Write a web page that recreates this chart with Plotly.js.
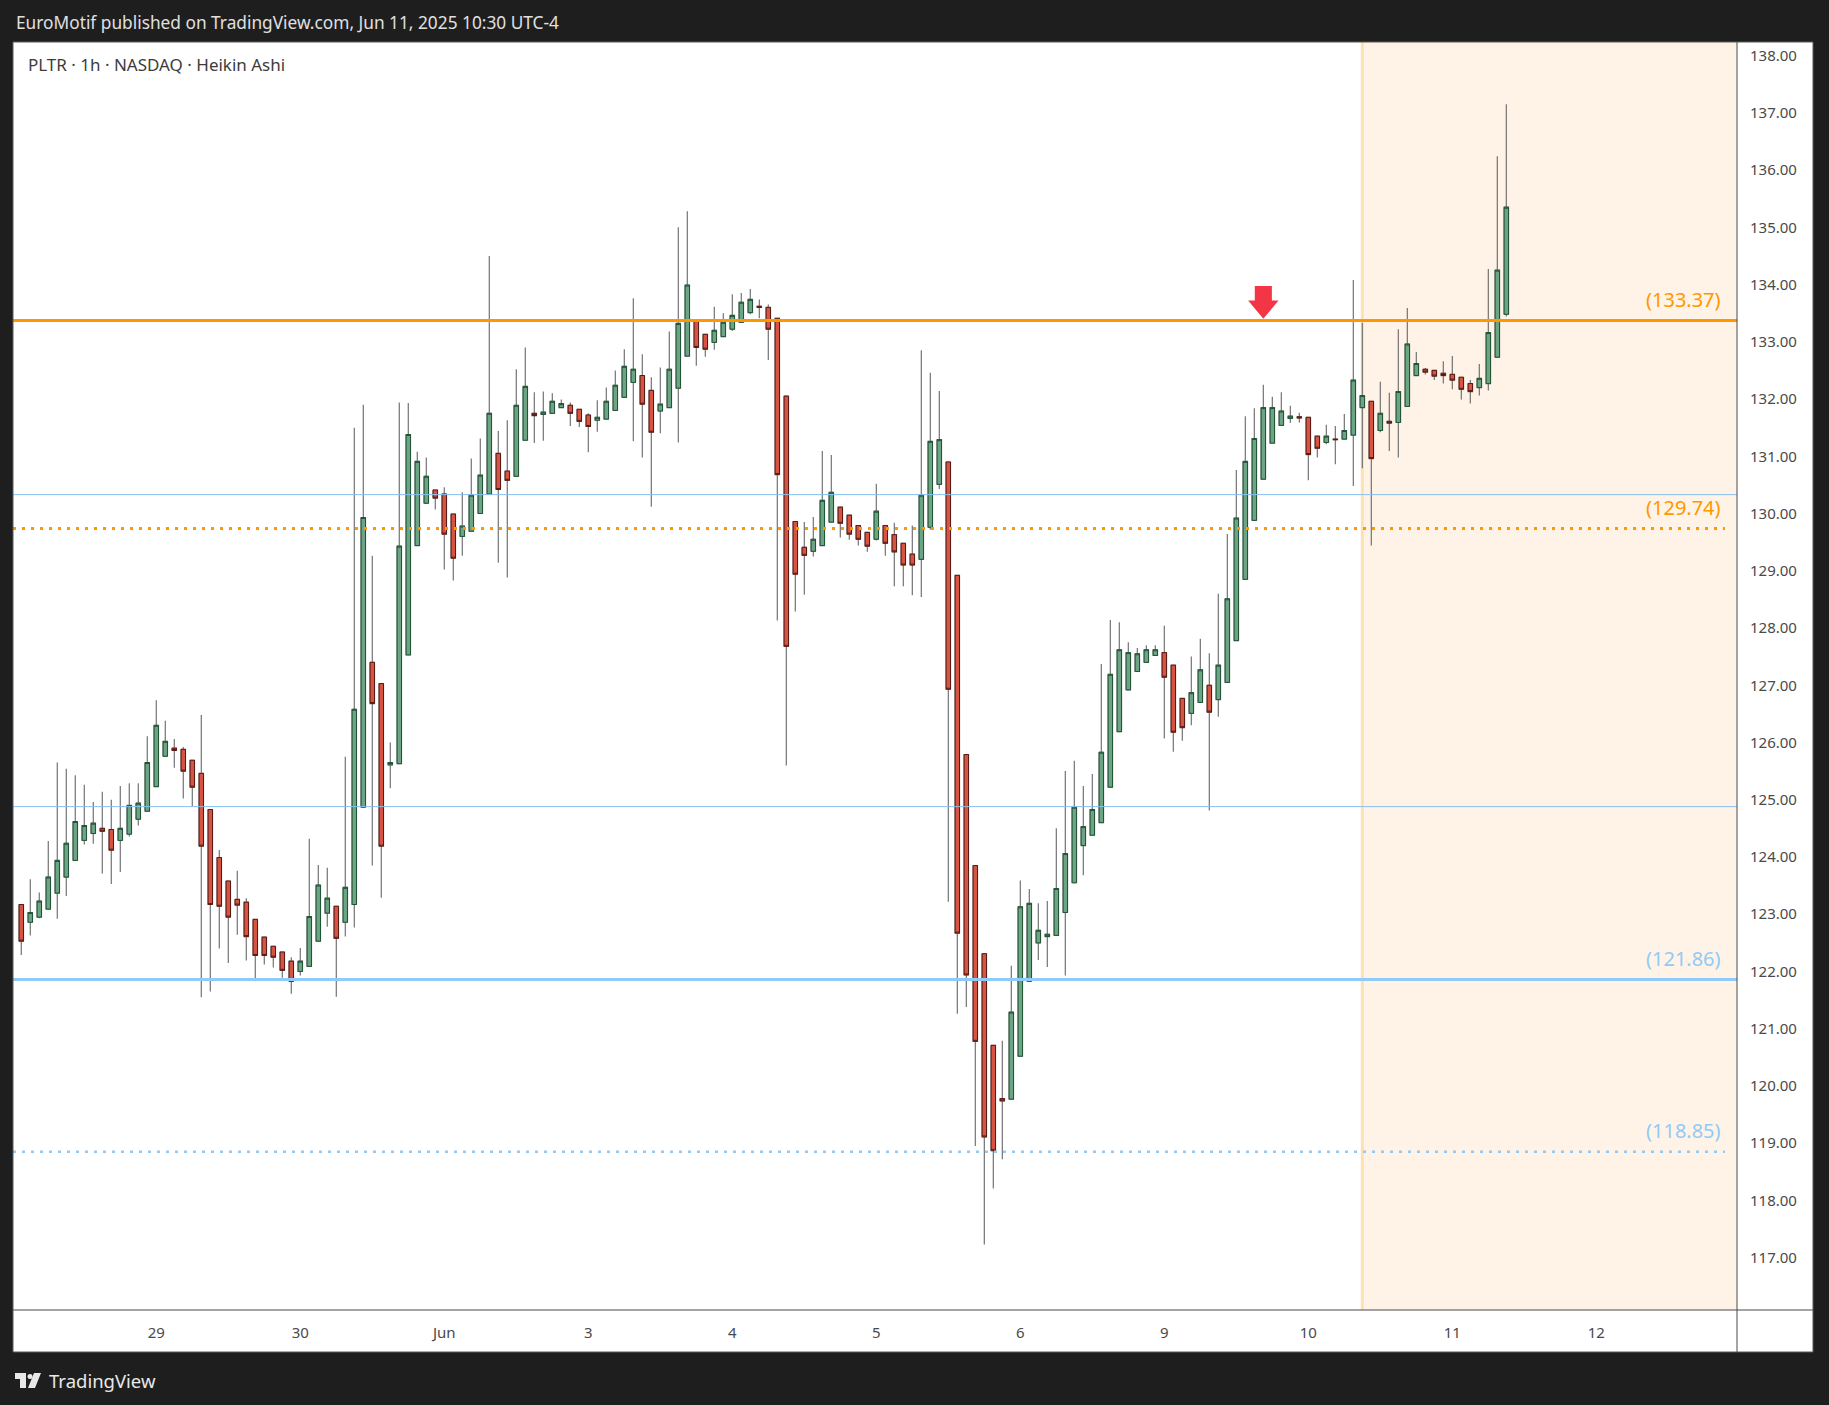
<!DOCTYPE html>
<html><head><meta charset="utf-8">
<script src="https://cdn.plot.ly/plotly-3.0.1.min.js"></script>
<style>html,body{margin:0;padding:0;background:#1e1e1e;overflow:hidden}#chart{width:1829px;height:1405px}</style>
</head><body><div id="chart"></div>
<script>
// ---- Heikin Ashi hourly bars (PLTR, 1h, extended hours, 16 bars per day) ----
const openP = [123.17,122.86,122.95,123.09,123.37,123.65,123.94,124.29,124.41,124.50,124.48,124.29,124.40,124.66,124.80,125.23,125.76,125.90,125.88,125.69,
125.46,124.83,123.99,123.58,123.26,123.21,122.91,122.60,122.44,122.34,122.18,122.00,122.09,122.53,123.02,123.14,122.86,123.17,124.87,127.40,
127.03,125.61,125.63,127.53,129.44,130.18,130.41,130.34,129.99,129.60,129.69,130.00,130.34,131.05,130.74,130.65,131.28,131.75,131.73,131.75,
131.85,131.89,131.82,131.72,131.63,131.65,131.80,132.03,132.29,132.41,132.15,131.79,131.85,132.19,132.75,133.36,133.13,132.99,133.09,133.22,
133.34,133.51,133.62,133.60,133.41,132.05,129.86,129.41,129.34,129.44,129.85,130.11,129.97,129.79,129.67,129.55,129.79,129.63,129.48,129.29,
129.20,129.76,130.51,130.90,128.92,125.79,123.85,122.31,120.71,119.78,119.77,120.52,121.83,122.50,122.61,122.63,123.03,123.55,124.20,124.38,
124.60,125.22,126.19,126.92,127.24,127.40,127.52,127.57,127.35,126.77,126.51,126.70,127.00,126.75,127.05,127.78,128.85,129.88,130.60,131.23,
131.54,131.66,131.69,131.68,131.35,131.24,131.30,131.30,131.37,131.85,131.96,131.45,131.61,131.59,131.87,132.41,132.52,132.50,132.45,132.43,
132.38,132.27,132.20,132.27,132.73,133.48];
const highP = [123.17,123.61,123.38,124.28,125.65,125.54,125.43,125.26,124.96,125.14,125.00,125.24,125.29,125.29,126.11,126.74,126.38,126.06,125.92,125.69,
126.48,124.83,124.12,123.58,123.76,123.28,122.91,122.60,122.44,122.34,122.25,122.41,124.32,123.86,123.81,123.14,125.75,131.50,131.90,129.26,
127.03,126.00,131.94,131.93,131.08,130.98,130.41,130.46,129.99,130.37,130.96,131.31,134.50,131.44,131.63,132.52,132.90,132.12,132.13,132.10,
131.99,131.94,131.82,131.75,131.98,132.20,132.50,132.87,133.76,132.78,132.38,132.55,133.18,135.00,135.28,133.36,133.13,133.61,133.50,133.83,
133.85,133.92,133.74,133.65,133.41,132.05,129.86,129.85,129.94,131.09,131.02,130.11,129.97,129.79,129.67,130.52,129.79,129.84,129.48,129.79,
132.85,132.46,132.14,130.90,128.92,125.79,123.85,122.31,120.71,120.79,122.10,123.59,123.44,123.19,123.23,124.50,125.50,125.68,125.24,125.45,
127.37,128.14,128.10,127.75,127.65,127.70,127.70,128.04,127.35,126.77,127.50,127.81,127.56,128.60,129.64,130.76,131.70,131.84,132.25,132.04,
132.12,131.88,131.76,131.68,131.35,131.55,131.53,131.74,134.08,133.33,131.96,132.30,132.11,133.22,133.59,132.82,132.54,132.50,132.66,132.75,
132.38,132.33,132.61,134.27,136.24,137.15];
const lowP = [122.29,122.63,122.93,123.09,122.92,123.32,123.94,124.22,124.23,123.71,123.53,123.74,124.36,124.55,124.80,125.23,125.76,125.56,125.02,124.89,
121.55,121.65,122.40,122.15,122.64,122.19,121.86,122.12,122.07,121.89,121.61,121.93,122.09,122.53,122.78,121.56,122.61,122.77,124.87,123.85,
123.29,125.20,125.63,127.53,129.44,130.18,130.07,129.02,128.83,129.26,129.69,130.00,130.34,129.14,128.88,130.65,131.28,131.23,131.27,131.75,
131.85,131.53,131.51,131.07,131.43,131.65,131.80,132.03,131.26,130.98,130.12,131.40,131.85,131.24,132.75,132.58,132.74,132.86,133.09,133.19,
133.34,133.48,133.41,132.68,128.13,125.60,128.29,128.58,129.25,129.44,129.85,129.58,129.54,129.44,129.33,129.53,129.26,128.73,128.73,128.57,
128.54,129.72,130.43,123.22,121.26,121.38,118.95,117.23,118.21,118.72,119.77,120.52,121.83,122.20,122.08,122.63,121.93,123.55,123.68,124.38,
124.60,125.22,126.19,126.92,127.24,127.40,127.52,126.07,125.84,126.03,126.30,126.70,124.81,126.45,127.05,127.78,128.85,129.88,130.60,131.23,
131.54,131.58,131.59,130.58,130.98,131.21,130.86,131.30,130.48,130.79,129.44,131.42,131.09,130.98,131.87,132.40,132.43,132.33,132.27,132.17,
131.99,131.92,132.06,132.15,132.73,133.44];
const closeP = [122.53,123.03,123.23,123.65,123.94,124.24,124.62,124.55,124.59,124.45,124.12,124.50,124.90,124.94,125.65,126.30,126.02,125.86,125.50,125.22,
124.19,123.17,123.14,122.95,123.16,122.61,122.28,122.28,122.25,122.02,121.83,122.18,122.96,123.51,123.28,122.58,123.47,126.58,129.93,126.68,
124.19,125.65,129.43,131.38,130.91,130.65,130.27,129.64,129.22,129.78,130.32,130.67,131.75,130.42,130.58,131.89,132.22,131.71,131.77,131.96,
131.92,131.75,131.61,131.52,131.68,131.96,132.24,132.57,132.52,131.91,131.42,131.91,132.52,133.32,133.99,132.90,132.87,133.20,133.34,133.46,
133.69,133.74,133.60,133.22,130.68,127.68,128.94,129.27,129.55,130.23,130.37,129.83,129.64,129.55,129.43,130.04,129.48,129.33,129.10,129.10,
130.32,131.26,131.29,126.93,122.67,121.94,120.78,119.11,118.87,119.74,121.29,123.13,123.19,122.72,122.65,123.45,124.06,124.87,124.53,124.83,
125.83,127.19,127.62,127.57,127.55,127.62,127.62,127.14,126.18,126.26,126.87,127.27,126.53,127.35,128.51,129.92,130.91,131.31,131.85,131.85,
131.79,131.70,131.67,131.03,131.14,131.35,131.29,131.45,132.33,132.06,130.96,131.75,131.58,132.13,132.96,132.62,132.47,132.40,132.41,132.33,
132.17,132.13,132.36,133.16,134.25,135.35];

// x axis: bar index of the first bar of each session, with its label
const dayTickBars = [15, 31, 47, 63, 79, 95, 111, 127, 143, 159, 175];
const dayTickLabels = ['29', '30', 'Jun', '3', '4', '5', '6', '9', '10', '11', '12'];
// y axis ticks
const priceTicks = [117,118,119,120,121,122,123,124,125,126,127,128,129,130,131,132,133,134,135,136,137,138];

// horizontal levels drawn on the chart
const orangeLevels = [133.37, 129.74];
const blueLevels = [121.86, 118.85];
const thinBlueLevels = [130.33, 124.88];
// highlighted session (from this bar to the right edge) and the signal arrow
const highlightStartBar = 149;
const arrowBar = 138;
const arrowTipPrice = 133.40;

// ---------- presentation ----------
const FONT = 'Noto Sans, Open Sans, sans-serif';
const L = 13, R = 1737, T = 42, B = 1310;       // plot area in px
const PX = x => (x - L) / (R - L);
const PY = y => (B - y) / (B - T);
const xRange = [-0.92, 190.63];
const yRange = [116.087, 138.236];

const bars = openP.map((_, i) => i);
const bodyTop = openP.map((o, i) => Math.max(o, closeP[i]));
const bodyBot = openP.map((o, i) => Math.min(o, closeP[i]));

const wickTrace = {
  type: 'candlestick', x: bars, open: openP, high: highP, low: lowP, close: closeP,
  increasing: {line: {color: '#737375', width: 1.2}, fillcolor: '#737375'},
  decreasing: {line: {color: '#737375', width: 1.2}, fillcolor: '#737375'},
  hoverinfo: 'skip', showlegend: false
};
const bodyTrace = {
  type: 'candlestick', x: bars, open: openP, high: bodyTop, low: bodyBot, close: closeP,
  increasing: {line: {color: '#225437', width: 1}, fillcolor: '#6ba583'},
  decreasing: {line: {color: '#5b1a13', width: 1}, fillcolor: '#d75442'},
  hoverinfo: 'skip', showlegend: false
};

const shapes = [];
// white axis panels
shapes.push({type: 'rect', xref: 'paper', yref: 'paper', x0: 1, x1: PX(1813), y0: PY(1352), y1: 1,
  fillcolor: '#ffffff', line: {width: 0}, layer: 'below'});
shapes.push({type: 'rect', xref: 'paper', yref: 'paper', x0: 0, x1: 1, y0: PY(1352), y1: 0,
  fillcolor: '#ffffff', line: {width: 0}, layer: 'below'});
// highlighted session
shapes.push({type: 'rect', xref: 'x', yref: 'paper', x0: highlightStartBar, x1: xRange[1], y0: 0, y1: 1,
  fillcolor: '#fef3e6', line: {width: 0}, layer: 'below'});
shapes.push({type: 'line', xref: 'x', yref: 'paper', x0: highlightStartBar, x1: highlightStartBar, y0: 0, y1: 1,
  line: {color: '#ffe0b2', width: 3}, layer: 'below'});
// levels
thinBlueLevels.forEach(v => shapes.push({type: 'line', xref: 'paper', yref: 'y', x0: 0, x1: 1, y0: v, y1: v,
  line: {color: '#86c1f0', width: 1}, layer: 'above'}));
shapes.push({type: 'line', xref: 'paper', yref: 'y', x0: 0, x1: 1, y0: orangeLevels[0], y1: orangeLevels[0],
  line: {color: '#ff9800', width: 3}, layer: 'above'});
shapes.push({type: 'line', xref: 'paper', yref: 'y', x0: 0, x1: 0.993, y0: orangeLevels[1], y1: orangeLevels[1],
  line: {color: '#ff9800', width: 3, dash: '3px,6px'}, layer: 'above'});
shapes.push({type: 'line', xref: 'paper', yref: 'y', x0: 0, x1: 1, y0: blueLevels[0], y1: blueLevels[0],
  line: {color: '#90caf9', width: 3}, layer: 'above'});
shapes.push({type: 'line', xref: 'paper', yref: 'y', x0: 0, x1: 0.993, y0: blueLevels[1], y1: blueLevels[1],
  line: {color: '#90caf9', width: 2.5, dash: '3px,6px'}, layer: 'above'});
// signal arrow (block arrow pointing down)
(function () {
  const hw = 1.69, sw = 0.95, head = 0.32, tot = 0.576;
  const t = arrowTipPrice, c = arrowBar;
  const p = [[c, t], [c - hw, t + head], [c - sw, t + head], [c - sw, t + tot], [c + sw, t + tot], [c + sw, t + head], [c + hw, t + head]];
  shapes.push({type: 'path', xref: 'x', yref: 'y', path: 'M' + p.map(q => q[0] + ',' + q[1]).join(' L') + ' Z',
    fillcolor: '#f23645', line: {width: 0}, layer: 'above'});
})();
// frame lines
const frame = '#4a4a4a';
shapes.push({type: 'line', xref: 'paper', yref: 'paper', x0: 1, x1: 1, y0: PY(1352), y1: 1, line: {color: frame, width: 1}});
shapes.push({type: 'line', xref: 'paper', yref: 'paper', x0: 0, x1: PX(1813), y0: 0, y1: 0, line: {color: frame, width: 1}});
shapes.push({type: 'rect', xref: 'paper', yref: 'paper', x0: 0, x1: PX(1813), y0: PY(1352), y1: 1, line: {color: '#5a5a5a', width: 1}, fillcolor: 'rgba(0,0,0,0)'});
// TradingView logo mark
shapes.push({type: 'rect', xref: 'paper', yref: 'paper', x0: PX(15), x1: PX(26), y0: PY(1379), y1: PY(1373), fillcolor: '#e8e8e8', line: {width: 0}});
shapes.push({type: 'rect', xref: 'paper', yref: 'paper', x0: PX(20), x1: PX(26), y0: PY(1388), y1: PY(1373), fillcolor: '#e8e8e8', line: {width: 0}});
shapes.push({type: 'circle', xref: 'paper', yref: 'paper', x0: PX(27.5), x1: PX(32.5), y0: PY(1379), y1: PY(1374), fillcolor: '#e8e8e8', line: {width: 0}});
shapes.push({type: 'path', xref: 'paper', yref: 'paper',
  path: `M${PX(34)},${PY(1373)} L${PX(41)},${PY(1373)} L${PX(35)},${PY(1388)} L${PX(28)},${PY(1388)} Z`, fillcolor: '#e8e8e8', line: {width: 0}});

const annotations = [];
annotations.push({xref: 'paper', yref: 'paper', x: PX(14), y: PY(22), xanchor: 'left', yanchor: 'middle', showarrow: false,
  text: 'EuroMotif published on TradingView.com, Jun 11, 2025 10:30 UTC-4', font: {family: FONT, size: 17.3, color: '#e0e0e0'}});
annotations.push({xref: 'paper', yref: 'paper', x: PX(26), y: PY(64), xanchor: 'left', yanchor: 'middle', showarrow: false,
  text: 'PLTR · 1h · NASDAQ · Heikin Ashi', font: {family: FONT, size: 17, color: '#3c3c3c'}});
annotations.push({xref: 'paper', yref: 'paper', x: PX(47), y: PY(1380), xanchor: 'left', yanchor: 'middle', showarrow: false,
  text: 'TradingView', font: {family: FONT, size: 18.5, color: '#e8e8e8'}});
const levelLabel = (v, color) => ({xref: 'paper', yref: 'y', x: PX(1723), y: v, xanchor: 'right', yanchor: 'middle', yshift: 21,
  showarrow: false, text: '(' + v.toFixed(2) + ')', font: {family: FONT, size: 20, color: color}});
orangeLevels.forEach(v => annotations.push(levelLabel(v, '#ff9800')));
blueLevels.forEach(v => annotations.push(levelLabel(v, '#90caf9')));

const layout = {
  width: 1829, height: 1405,
  margin: {l: L, r: 1829 - R, t: T, b: 1405 - B, pad: 0},
  paper_bgcolor: '#1e1e1e', plot_bgcolor: '#ffffff',
  showlegend: false,
  font: {family: FONT},
  xaxis: {range: xRange, tickvals: dayTickBars, ticktext: dayTickLabels, showgrid: false, zeroline: false,
    ticks: '', showline: false, ticklabelstandoff: 12, tickfont: {family: FONT, size: 15, color: '#4a4a4a'},
    rangeslider: {visible: false}, fixedrange: true},
  yaxis: {range: yRange, side: 'right', tickvals: priceTicks, tickformat: '.2f', showgrid: false, zeroline: false,
    ticks: '', showline: false, ticklabelstandoff: 12, tickfont: {family: FONT, size: 15, color: '#4a4a4a'}, fixedrange: true},
  shapes: shapes,
  annotations: annotations
};

Plotly.newPlot('chart', [wickTrace, bodyTrace], layout, {staticPlot: true, displayModeBar: false});
</script>
</body></html>
